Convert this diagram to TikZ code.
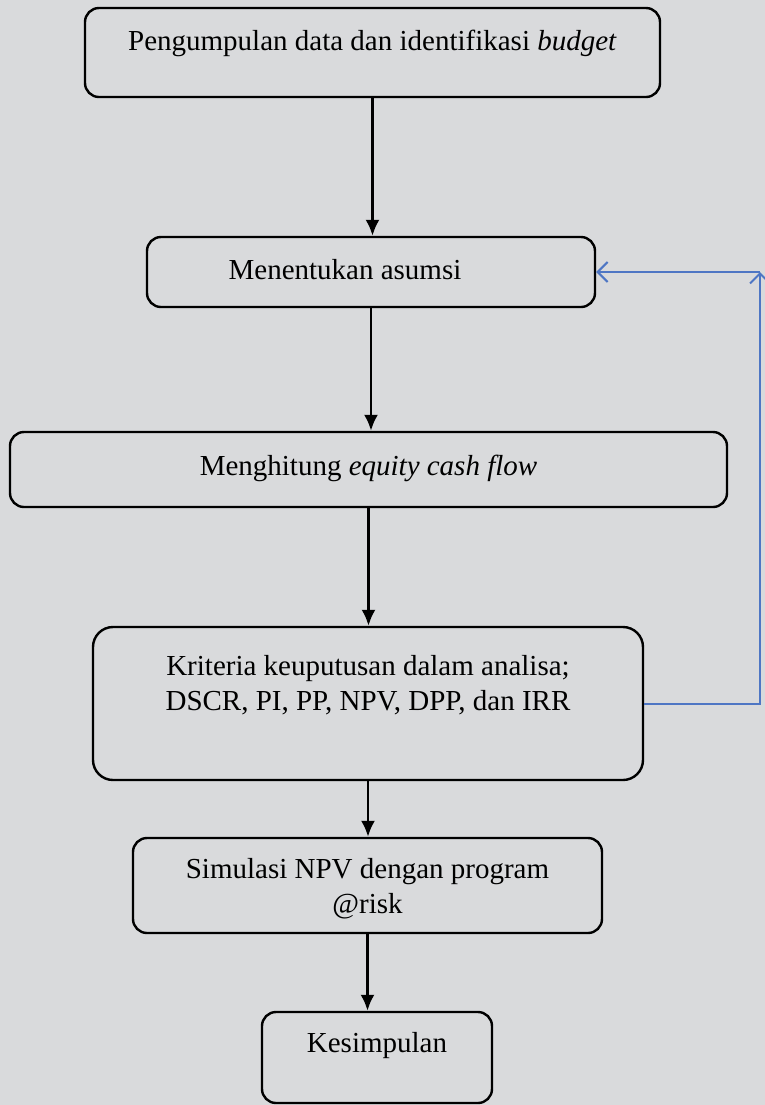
\documentclass[tikz,border=0pt]{standalone}
\usepackage{fontspec}
\setmainfont{Liberation Serif}
\usetikzlibrary{arrows.meta,positioning}
\definecolor{paper}{RGB}{217,218,220}
\definecolor{loopblue}{RGB}{78,118,196}
\newcommand{\boxtext}[4]{\parbox[c][#2][t]{#1}{\centering\vspace*{#3}#4}}
\tikzset{
    x=0.5pt, y=-0.5pt, semithick,
    stage/.style={rectangle, draw, line width=1.2pt, rounded corners=7pt, inner sep=0pt,
                  font=\fontsize{14.5}{17.5}\selectfont},
    flow/.style={-{Latex[length=8pt,width=7pt]}, line width=1.3pt},
    feedback/.style={-{Straight Barb[length=5pt,width=10pt]}, loopblue, line width=1pt}
}

\begin{document}
\begin{tikzpicture}
 \fill[paper] (0,0) rectangle (765,1105);
 \useasboundingbox (0,0) rectangle (765,1105);

 \node[stage] (b1) at (372.5,52.5) {\boxtext{287.5pt}{44.5pt}{11pt}{Pengumpulan data dan identifikasi \textit{budget}}};
 \node[stage] (b2) at (371,272) {\boxtext{224pt}{35pt}{11pt}{Menentukan asumsi\hspace*{26pt}}};
 \node[stage] (b3) at (368.5,469.5) {\boxtext{358.5pt}{37.5pt}{11.5pt}{Menghitung \textit{equity cash flow}}};
 \node[stage, rounded corners=10pt] (b4) at (368,703.5) {\boxtext{275pt}{76.5pt}{14pt}{Kriteria keuputusan dalam analisa;\\ DSCR, PI, PP, NPV, DPP, dan IRR}};
 \node[stage] (b5) at (367.5,885.5) {\boxtext{234.5pt}{47.5pt}{10pt}{Simulasi NPV dengan program\\ @risk}};
 \node[stage] (b6) at (377,1057.5) {\boxtext{115pt}{45.5pt}{10pt}{Kesimpulan}};

 \path (b1.south) edge[flow] (b1.south |- b2.north);
 \path (b2.south) edge[flow] (b2.south |- b3.north);
 \path (b3.south) edge[flow] (b3.south |- b4.north);
 \path (b4.south) edge[flow] (b4.south |- b5.north);
 \path (b5.south) edge[flow] (b5.south |- b6.north);

 % back to the assumptions
 \coordinate (rail) at (760,0);
 \draw[feedback] (b4.east) -- (b4.east -| rail) -- (b2.east -| rail);
 \draw[feedback] (b2.east -| rail) -- (b2.east);
\end{tikzpicture}
\end{document}
